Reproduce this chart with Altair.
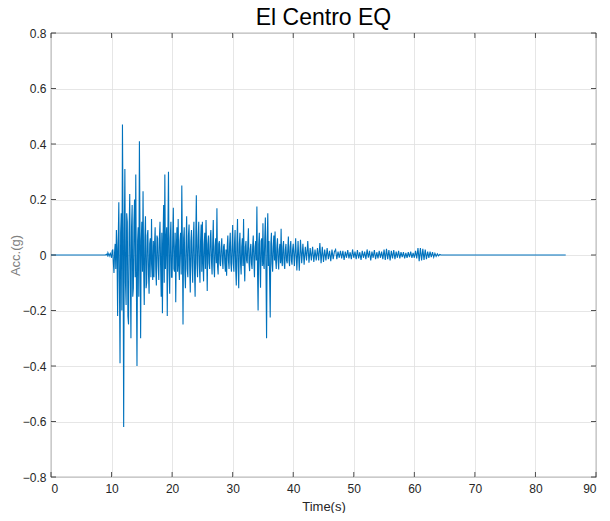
import altair as alt
import numpy as np
import pandas as pd

# ---- record sampling (two parts of the record, read at different steps) ----
T_DENSE, DT_DENSE = 9.0, 0.1     # 9.0 .. 39.9 s
T_TAIL, DT_TAIL = 40.0, 0.2      # 40.0 .. 64.8 s
T_END = 85.0

# ground acceleration (g), 10 samples per second
acc_09_20 = [
    0.000, 0.002, 0.003, -0.002, 0.008, 0.002, -0.004, 0.003, 0.006, -0.003,   # 9
    -0.010, 0.015, 0.020, -0.030, -0.065, 0.010, 0.040, -0.050, 0.090, 0.020,  # 10
    -0.220, 0.050, 0.190, -0.100, -0.390, 0.080, 0.150, -0.200, 0.470, 0.100,  # 11
    -0.620, 0.050, 0.310, -0.100, -0.180, 0.150, 0.120, -0.220, -0.250, 0.080, # 12
    0.220, -0.050, -0.300, 0.100, 0.180, -0.150, -0.120, 0.120, 0.200, -0.080, # 13
    0.290, -0.100, -0.400, 0.050, 0.100, -0.150, 0.410, 0.080, -0.300, 0.050,  # 14
    0.120, -0.060, 0.230, -0.050, -0.180, 0.060, 0.140, -0.120, -0.100, 0.070, # 15
    0.090, -0.070, -0.140, 0.040, 0.060, -0.080, 0.130, -0.030, -0.090, 0.050, # 16
    -0.080, 0.040, 0.100, -0.050, -0.110, 0.070, 0.060, -0.040, -0.090, 0.060, # 17
    0.120, -0.040, -0.150, 0.080, -0.210, 0.050, 0.180, -0.100, 0.290, -0.050, # 18
    0.050, 0.100, -0.220, 0.070, 0.300, -0.050, -0.140, 0.060, 0.120, -0.080,  # 19
]
acc_20_30 = [
    -0.080, 0.060, 0.170, -0.050, -0.060, 0.080, -0.170, 0.030, 0.100, -0.060, # 20
    0.130, -0.040, -0.090, 0.050, 0.080, -0.070, 0.250, 0.030, -0.250, 0.060,  # 21
    0.100, -0.060, -0.120, 0.040, 0.140, -0.050, -0.080, 0.070, 0.110, -0.040, # 22
    -0.135, 0.050, 0.090, -0.040, -0.100, 0.060, 0.120, -0.060, -0.150, 0.050, # 23
    0.215, -0.030, -0.080, 0.060, 0.120, -0.040, -0.100, 0.050, 0.110, -0.060, # 24
    0.120, -0.030, -0.095, 0.040, 0.080, -0.050, 0.126, 0.020, -0.130, 0.040,  # 25
    0.070, -0.030, -0.050, 0.060, 0.090, -0.020, -0.070, 0.040, 0.126, -0.040, # 26
    -0.080, 0.030, 0.060, -0.030, 0.168, -0.040, -0.070, 0.040, 0.050, -0.030, # 27
    -0.040, 0.030, 0.060, -0.020, -0.050, 0.030, 0.040, -0.030, -0.060, 0.020, # 28
    -0.075, 0.030, 0.070, -0.020, -0.050, 0.040, 0.080, -0.030, -0.060, 0.030, # 29
]
acc_30_40 = [
    0.108, -0.030, -0.060, 0.040, 0.090, -0.050, -0.110, 0.040, 0.130, -0.040, # 30
    -0.120, 0.040, 0.080, -0.030, -0.070, 0.030, 0.060, -0.040, 0.130, -0.030, # 31
    -0.095, 0.030, 0.050, -0.020, -0.030, 0.040, 0.096, -0.030, -0.058, 0.020, # 32
    0.040, -0.030, -0.050, 0.030, 0.070, -0.020, -0.080, 0.030, 0.050, -0.020, # 33
    0.175, -0.050, -0.200, 0.040, 0.080, -0.030, -0.118, 0.050, 0.060, -0.040, # 34
    0.114, -0.030, -0.050, 0.060, 0.135, -0.060, -0.300, 0.050, 0.150, -0.040, # 35
    0.050, -0.080, -0.225, 0.040, 0.080, -0.030, -0.060, 0.030, 0.070, -0.020, # 36
    0.085, -0.020, -0.050, 0.030, 0.060, -0.020, -0.052, 0.020, 0.040, -0.030, # 37
    0.095, -0.020, -0.040, 0.030, 0.050, -0.030, -0.050, 0.020, 0.040, -0.020, # 38
    -0.030, 0.020, 0.067, -0.020, -0.040, 0.030, 0.050, -0.020, -0.035, 0.020, # 39
]
# 5 samples per second after 40 s
acc_40_52 = [
    0.040, -0.040, 0.060, -0.056, 0.050,     # 40
    -0.057, 0.055, -0.030, 0.040, -0.035,    # 41
    0.030, -0.020, 0.050, -0.028, 0.025,     # 42
    -0.020, 0.030, -0.025, 0.020, -0.020,    # 43
    0.025, -0.020, 0.043, -0.030, 0.030,     # 44
    -0.025, 0.020, -0.020, 0.025, -0.015,    # 45
    0.015, -0.022, 0.020, -0.015, 0.012,     # 46
    0.020, -0.015, 0.012, -0.010, 0.015,     # 47
    -0.012, 0.015, -0.018, 0.012, -0.010,    # 48
    0.018, -0.012, 0.010, -0.015, 0.020,     # 49
    -0.010, 0.012, -0.015, 0.018, -0.012,    # 50
    0.010, -0.018, 0.015, -0.010, 0.012,     # 51
]
acc_52_65 = [
    -0.015, 0.020, -0.010, 0.015, -0.020,    # 52
    0.012, -0.010, 0.018, -0.015, 0.010,     # 53
    -0.012, 0.015, -0.010, 0.012, -0.015,    # 54
    0.020, -0.018, 0.022, -0.015, 0.018,     # 55
    -0.020, 0.015, -0.012, 0.018, -0.015,    # 56
    0.012, -0.010, 0.015, -0.012, 0.010,     # 57
    -0.008, 0.010, -0.012, 0.008, -0.010,    # 58
    0.010, -0.008, 0.012, -0.010, 0.008,     # 59
    -0.010, 0.015, -0.012, 0.025, -0.022,    # 60
    0.025, -0.020, 0.022, -0.018, 0.020,     # 61
    -0.015, 0.012, -0.010, 0.012, -0.008,    # 62
    0.010, -0.008, 0.006, -0.005, 0.004,     # 63
    -0.003, 0.002, 0.000, 0.000, 0.000,      # 64
]

x_ticks = [0, 10, 20, 30, 40, 50, 60, 70, 80, 90]
y_ticks = [-0.8, -0.6, -0.4, -0.2, 0, 0.2, 0.4, 0.6, 0.8]

dense = acc_09_20 + acc_20_30 + acc_30_40
tail = acc_40_52 + acc_52_65
t_dense = list(np.round(T_DENSE + DT_DENSE * np.arange(len(dense)), 3))
t_tail = list(np.round(T_TAIL + DT_TAIL * np.arange(len(tail)), 3))
times = [0.0] + t_dense + t_tail + [T_END]
accs = [0.0] + dense + tail + [0.0]
df = pd.DataFrame({"time": times, "acc": accs})

W, H = 545, 444
FONT = "Liberation Sans"
DARK = "#262626"
TICK = 5

xs = alt.Scale(domain=[0, 90], nice=False, zero=False)
ys = alt.Scale(domain=[-0.8, 0.8], nice=False, zero=False)

x_axis = alt.Axis(values=x_ticks, title="Time(s)", format="d")
y_axis = alt.Axis(values=y_ticks, title="Acc.(g)", format="~g")

line = alt.Chart(df).mark_line(color="#0072BD", strokeWidth=1.1).encode(
    x=alt.X("time:Q", scale=xs, axis=x_axis),
    y=alt.Y("acc:Q", scale=ys, axis=y_axis),
)

xt = pd.DataFrame({"time": x_ticks})
yt = pd.DataFrame({"acc": y_ticks})

top_ticks = alt.Chart(xt).mark_rule(color=DARK, strokeWidth=0.8).encode(
    x=alt.X("time:Q", scale=xs, axis=x_axis), y=alt.value(0), y2=alt.value(TICK))
bot_ticks = alt.Chart(xt).mark_rule(color=DARK, strokeWidth=0.8).encode(
    x=alt.X("time:Q", scale=xs, axis=x_axis), y=alt.value(H - TICK), y2=alt.value(H))
left_ticks = alt.Chart(yt).mark_rule(color=DARK, strokeWidth=0.8).encode(
    y=alt.Y("acc:Q", scale=ys, axis=y_axis), x=alt.value(0), x2=alt.value(TICK))
right_ticks = alt.Chart(yt).mark_rule(color=DARK, strokeWidth=0.8).encode(
    y=alt.Y("acc:Q", scale=ys, axis=y_axis), x=alt.value(W - TICK), x2=alt.value(W))

chart = alt.layer(line, top_ticks, bot_ticks, left_ticks, right_ticks).properties(
    width=W,
    height=H,
    autosize=alt.AutoSizeParams(type="none"),
    padding={"left": 43, "top": 25, "right": 6, "bottom": 36},
    title=alt.TitleParams("El Centro EQ", fontSize=23, font=FONT, fontWeight="normal",
                          color="#000000", anchor="middle", baseline="alphabetic",
                          offset=6, dy=27),
).configure_view(
    stroke=DARK, strokeWidth=0.8
).configure_axis(
    domain=False, ticks=False, tickSize=0,
    grid=True, gridColor="#dfdfdf", gridWidth=0.8,
    labelFont=FONT, labelFontSize=12, labelColor=DARK,
    titleFont=FONT, titleFontSize=13, titleFontWeight="normal",
).configure_axisX(
    labelPadding=6, titlePadding=6, titleColor=DARK,
).configure_axisY(
    labelPadding=5, titlePadding=0, titleColor="#808080",
)

chart.save("out.html", embed_options={"renderer": "svg", "actions": False})
